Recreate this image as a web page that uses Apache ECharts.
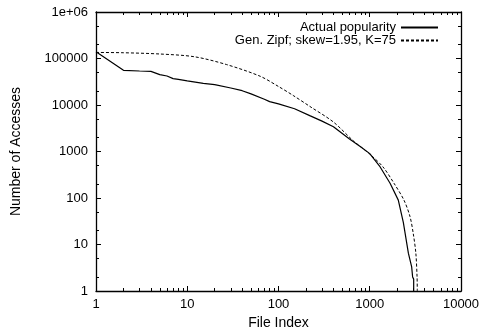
<!DOCTYPE html>
<html>
<head>
<meta charset="utf-8">
<script src="https://cdn.jsdelivr.net/npm/echarts@6/dist/echarts.min.js"></script>
<style>
  html, body { margin: 0; background: #fff; }
  #chart { width: 483px; height: 335px; }
</style>
</head>
<body>
<div id="chart"></div>
<script>
const actualIndex = [1, 2, 3, 4, 5, 6, 7, 8, 10, 15, 20, 30, 40, 50, 70, 80, 100, 150, 220, 300, 400, 600, 800, 1000, 1295, 1670, 2055, 2333, 2650, 2880, 2950, 3030, 3030];
const actualAccesses = [140000, 55700, 53800, 53000, 45000, 42000, 37000, 35500, 33000, 29300, 27400, 23200, 20300, 17300, 13300, 11800, 10600, 8300, 5900, 4500, 3400, 1850, 1250, 900, 471, 207, 90, 30, 6.5, 3.3, 2, 1.8, 1];

// generalized zipf fit
const zipfIndex = [1, 2, 5, 12, 27, 63, 100, 145, 221, 400, 660, 1000, 1390, 1845, 2370, 2760, 3000, 3200, 3300, 3320];
const zipfAccesses = [135000, 133000, 125000, 109000, 74000, 41500, 25000, 16000, 9300, 4300, 1700, 880, 471, 207, 90, 40, 17, 6.5, 2, 1];

// minor tick positions (gnuplot style)
const xMinor = [2, 3, 4, 5, 6, 7, 8, 9, 20, 30, 40, 50, 60, 70, 80, 90, 200, 300, 400, 500, 600, 700, 800, 900, 2000, 3000, 4000, 5000, 6000, 7000, 8000, 9000];
const yMinor = [2, 5, 20, 50, 200, 500, 2000, 5000, 20000, 50000, 200000, 500000];

const font = 'Liberation Sans, Arial, Helvetica, sans-serif';
const black = '#000';

function fmt(v) {
    if (v >= 1000000) return '1e+06';
    return String(Math.round(v));
}

function majorAxis(pos, withLabels) {
    return {
        type: 'log', logBase: 10,
        position: pos,
        axisLine: { show: true, onZero: false, lineStyle: { color: black, width: 1.3 } },
        axisTick: { show: true, inside: true, length: 5, lineStyle: { color: black, width: 1 } },
        axisLabel: { show: withLabels, color: black, fontSize: 13, fontFamily: font, formatter: fmt },
        splitLine: { show: false },
        minorTick: { show: false }
    };
}

function minorAxis(pos, max, vals) {
    return {
        type: 'value', min: 0, max: max,
        position: pos,
        axisLine: { show: false, onZero: false },
        axisTick: { show: true, inside: true, length: 3, lineStyle: { color: black, width: 1 },
                    customValues: vals.map(Math.log10) },
        axisLabel: { show: false },
        splitLine: { show: false }
    };
}

const xBottom = Object.assign(majorAxis('bottom', true), {
    min: 1, max: 10000,
    name: 'File Index', nameLocation: 'middle', nameGap: 25,
    nameTextStyle: { color: black, fontSize: 14, fontFamily: font }
});
xBottom.axisLabel.margin = 7;
const xTop = Object.assign(majorAxis('top', false), { min: 1, max: 10000 });

const yLeft = Object.assign(majorAxis('left', true), {
    min: 1, max: 1000000,
    name: 'Number of Accesses', nameLocation: 'middle', nameGap: 73,
    nameTextStyle: { color: black, fontSize: 14, fontFamily: font }
});
yLeft.axisLabel.margin = 8;
const yRight = Object.assign(majorAxis('right', false), { min: 1, max: 1000000 });

const chart = echarts.init(document.getElementById('chart'));

chart.setOption({
    animation: false,
    backgroundColor: '#fff',
    grid: { left: 96, right: 22, top: 12, bottom: 44, outerBoundsMode: 'none' },
    legend: {
        orient: 'vertical', right: 39, top: 16, align: 'right',
        itemWidth: 37, itemHeight: 10, itemGap: 0,
        itemStyle: { opacity: 0 },
        textStyle: { color: black, fontSize: 13, lineHeight: 11, fontFamily: font },
        data: ['Actual popularity', 'Gen. Zipf; skew=1.95, K=75']
    },
    xAxis: [xBottom, xTop, minorAxis('bottom', 4, xMinor), minorAxis('top', 4, xMinor)],
    yAxis: [yLeft, yRight, minorAxis('left', 6, yMinor), minorAxis('right', 6, yMinor)],
    series: [
        {
            name: 'Actual popularity', type: 'line',
            xAxisIndex: 0, yAxisIndex: 0,
            symbol: 'none', showSymbol: false,
            lineStyle: { color: black, width: 1.2 },
            itemStyle: { color: black },
            data: actualIndex.map((x, i) => [x, actualAccesses[i]])
        },
        {
            name: 'Gen. Zipf; skew=1.95, K=75', type: 'line',
            xAxisIndex: 0, yAxisIndex: 0,
            symbol: 'none', showSymbol: false, smooth: 0.3,
            lineStyle: { color: black, width: 1, type: [3, 2] },
            itemStyle: { color: black },
            data: zipfIndex.map((x, i) => [x, zipfAccesses[i]])
        }
    ]
});
</script>
</body>
</html>
